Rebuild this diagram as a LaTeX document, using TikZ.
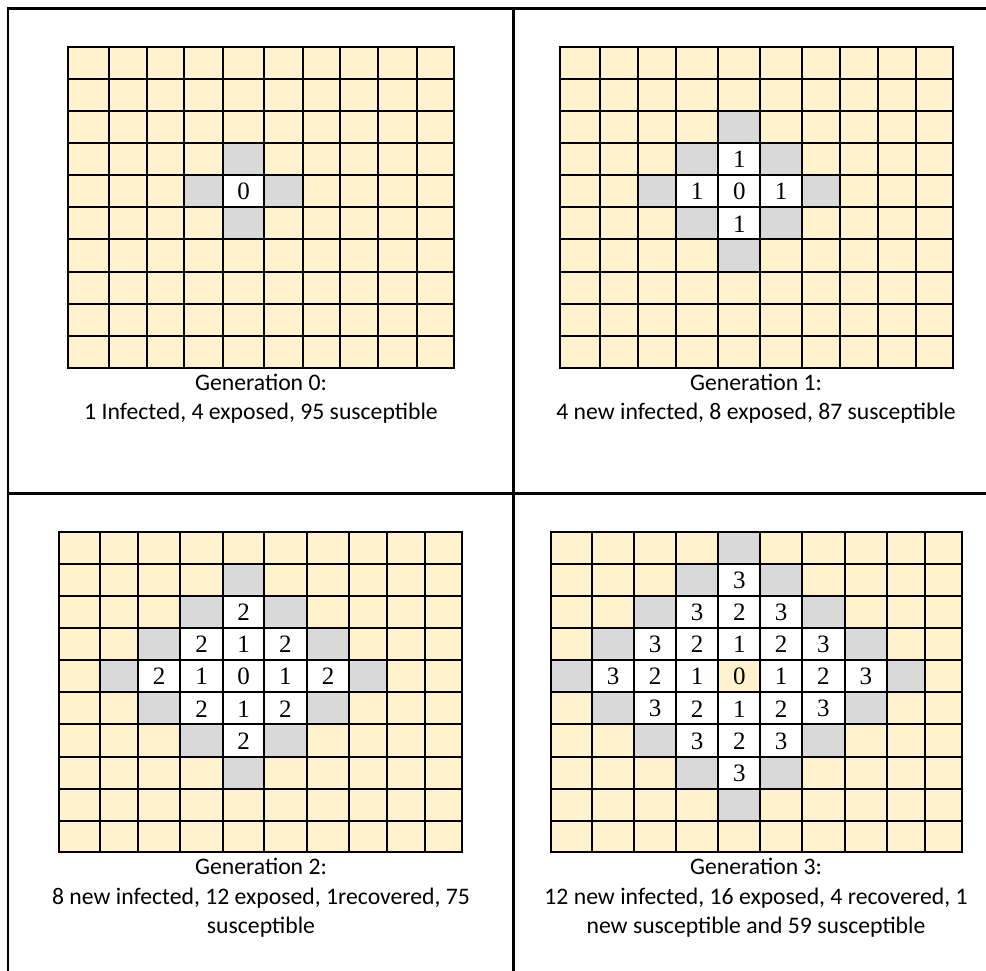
\documentclass[tikz,border=0pt]{standalone}
\usepackage{fontspec}
\setmainfont{Liberation Serif}
\newfontfamily\capfont{Carlito}
\definecolor{cream}{HTML}{FFF2CC}
\definecolor{expgrey}{HTML}{D9D9D9}
\def\colsA{{67.7,108.7,146.7,184,223.3,263.7,302.7,340,378.3,416.7,454.3}}
\def\colsB{{559.7,599.7,638,676,718.3,760.3,802,840,878,916.3,953.3}}
\def\colsC{{58.7,99.7,138,180,223.3,263.7,307,349,387.3,425,462}}
\def\colsD{{550.7,592,634,676,718.3,760.3,802,844.7,887,924.7,962.3}}
\def\rowsT{{46.7,79,111,143.3,175,207.3,239.3,271.7,304,336,367.7}}
\def\rowsB{{531.7,564,596,628.3,660,692.3,724.3,756.7,789,821,851.7}}
\newcommand\drawpanel[4]{%
  \foreach \r in {0,...,9}{%
    \foreach \c in {0,...,9}{%
      \pgfmathsetmacro\xa{#2[\c]}%
      \pgfmathsetmacro\xb{#2[\c+1]}%
      \pgfmathsetmacro\ya{#3[\r]}%
      \pgfmathsetmacro\yb{#3[\r+1]}%
      \pgfmathtruncatemacro\d{abs(\r-4)+abs(\c-4)}%
      \ifnum\d>#4\relax
        \ifnum\d=\numexpr#4+1\relax \def\cc{expgrey}\else\def\cc{cream}\fi
      \else
        \def\cc{white}%
      \fi
      \ifnum#4=3 \ifnum\d=0 \def\cc{cream}\fi\fi
      \fill[\cc] (\xa,\ya) rectangle (\xb,\yb);
      \ifnum\d>#4\relax\else
        \node[num] (#1-\r-\c) at ({(\xa+\xb)/2},{(\ya+\yb)/2+0.5}) {\d};
      \fi
    }%
  }%
  \pgfmathsetmacro\gy{#3[0]}%
  \pgfmathsetmacro\gyy{#3[10]}%
  \pgfmathsetmacro\gx{#2[0]}%
  \pgfmathsetmacro\gxx{#2[10]}%
  \foreach \c in {0,...,10}{%
    \pgfmathsetmacro\xa{#2[\c]}%
    \draw[gridline] (\xa,\gy) -- (\xa,\gyy);
  }%
  \foreach \r in {0,...,10}{%
    \pgfmathsetmacro\ya{#3[\r]}%
    \draw[gridline] (\gx,\ya) -- (\gxx,\ya);
  }%
}
\begin{document}
\begin{tikzpicture}[x=1pt,y=-1pt,
  gridline/.style={line width=1.8pt,line cap=rect},
  frameline/.style={line width=2.5pt},
  num/.style={font=\fontsize{25}{29}\selectfont,inner sep=0pt},
  caption/.style={font=\capfont\fontsize{23.7}{29.3}\selectfont,align=center,anchor=base,inner sep=0pt}]
\useasboundingbox (0,0) rectangle (986,971);
\fill[white] (0,0) rectangle (986,971);
% frame
\coordinate (tl) at (7.8,8.7);
\coordinate (tr) at (986,8.7);
\coordinate (bl) at (7.8,971);
\coordinate (mt) at (513.7,8.7);
\coordinate (mb) at (513.7,971);
\coordinate (ml) at (7.8,493.7);
\coordinate (mr) at (986,493.7);
\draw[frameline] (bl) -- (tl) -- (tr);
\draw[frameline] (mt) -- (mb);
\draw[frameline] (ml) -- (mr);
% panels
\drawpanel{pa}{\colsA}{\rowsT}{0}
\drawpanel{pb}{\colsB}{\rowsT}{1}
\drawpanel{pc}{\colsC}{\rowsB}{2}
\drawpanel{pd}{\colsD}{\rowsB}{3}
% captions (anchor=base is the baseline of the last line)
\node[caption] (capa) at (261,419.5) {Generation 0:\\1 Infected, 4 exposed, 95 susceptible};
\node[caption] (capb) at (756,419.5) {Generation 1:\\4 new infected, 8 exposed, 87 susceptible};
\node[caption] (capc) at (261,933.3) {Generation 2:\\8 new infected, 12 exposed, 1recovered, 75\\susceptible};
\node[caption] (capd) at (756,933.3) {Generation 3:\\12 new infected, 16 exposed, 4 recovered, 1\\new susceptible and 59 susceptible};
\end{tikzpicture}
\end{document}
